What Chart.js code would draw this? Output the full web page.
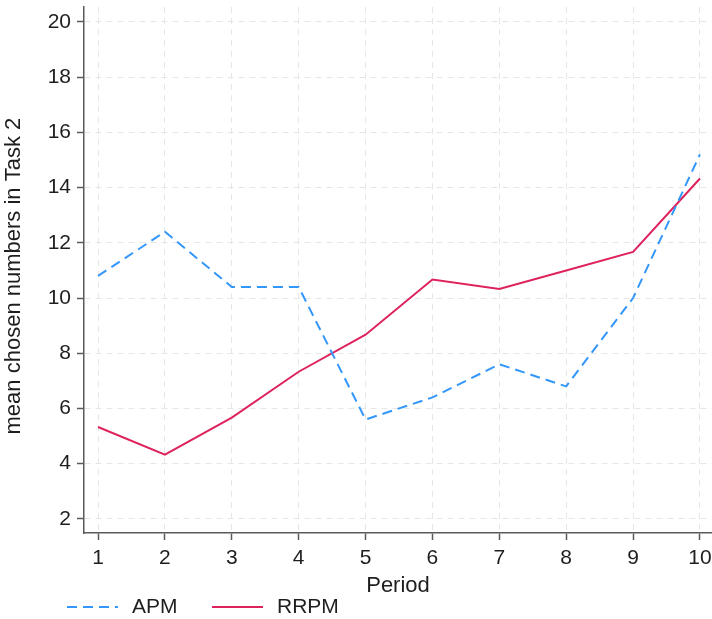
<!DOCTYPE html>
<html>
<head>
<meta charset="utf-8">
<script src="https://cdn.jsdelivr.net/npm/chart.js@4.4.0/dist/chart.umd.min.js"></script>
<style>
  body { margin: 0; background: #fff; }
  #wrap { width: 712px; height: 619px; }
</style>
</head>
<body>
<div id="wrap"><canvas id="periodChart" width="712" height="619"></canvas></div>
<script>
// Mean chosen numbers in Task 2 by period

const periods = [1, 2, 3, 4, 5, 6, 7, 8, 9, 10];
const apmMeans = [10.8, 12.4, 10.4, 10.4, 5.6, 6.4, 7.6, 6.8, 10.0, 15.2];
const rrpmMeans = [5.33, 4.33, 5.67, 7.33, 8.67, 10.67, 10.33, 11.0, 11.67, 14.33];
const yTicks = [2, 4, 6, 8, 10, 12, 14, 16, 18, 20];

const FONT = 'Arial, "Liberation Sans", sans-serif';
const TEXT = '#1e1e1e';
const AXIS = '#5a5a5a';
const GRID = '#e6e6e6';

// legend drawn under the x-axis title, left aligned like the original
const bottomLegend = {
    id: 'bottomLegend',
    afterDraw(chart) {
        const ctx = chart.ctx;
        const xs = [67, 212];
        const y = 607;
        ctx.save();
        ctx.font = '21px ' + FONT;
        ctx.textBaseline = 'middle';
        chart.data.datasets.forEach((ds, i) => {
            ctx.strokeStyle = ds.borderColor;
            ctx.lineWidth = ds.borderWidth;
            ctx.setLineDash(ds.borderDash || []);
            ctx.beginPath();
            ctx.moveTo(xs[i], y);
            ctx.lineTo(xs[i] + 51, y);
            ctx.stroke();
            ctx.setLineDash([]);
            ctx.fillStyle = TEXT;
            ctx.fillText(ds.label, xs[i] + 65, y);
        });
        ctx.restore();
    }
};

const ctx = document.getElementById('periodChart').getContext('2d');

new Chart(ctx, {
    type: 'line',
    data: {
        datasets: [{
            label: 'APM',
            data: periods.map((p, i) => ({ x: p, y: apmMeans[i] })),
            borderColor: 'rgb(51, 150, 250)',
            borderWidth: 2,
            borderDash: [10, 6],
            pointRadius: 0,
            tension: 0,
            fill: false
        }, {
            label: 'RRPM',
            data: periods.map((p, i) => ({ x: p, y: rrpmMeans[i] })),
            borderColor: 'rgb(222, 34, 92)',
            borderWidth: 2,
            pointRadius: 0,
            tension: 0,
            fill: false
        }]
    },
    options: {
        responsive: false,
        animation: false,
        layout: {
            padding: { top: 7, right: 0, bottom: 19, left: 0 }
        },
        scales: {
            x: {
                type: 'linear',
                min: 0.79,
                max: 10.18,
                afterBuildTicks: s => { s.ticks = periods.map(v => ({ value: v })); },
                afterFit: s => {
                    s.height = 67;
                    s.paddingLeft = 0;
                    s.paddingRight = 0;
                },
                ticks: {
                    color: TEXT,
                    font: { family: FONT, size: 21 },
                    padding: 6,
                    maxRotation: 0
                },
                grid: {
                    color: GRID,
                    lineWidth: 1,
                    tickLength: 7,
                    tickColor: AXIS,
                    tickWidth: 1.5
                },
                border: { color: AXIS, width: 1.5, dash: [6, 5] },
                title: {
                    display: true,
                    text: 'Period',
                    color: TEXT,
                    font: { family: FONT, size: 22 },
                    padding: { top: 0, bottom: 1 }
                }
            },
            y: {
                min: 1.49,
                max: 20.54,
                afterBuildTicks: s => { s.ticks = yTicks.map(v => ({ value: v })); },
                afterFit: s => {
                    s.width = 84;
                    s.paddingTop = 0;
                    s.paddingBottom = 0;
                },
                ticks: {
                    color: TEXT,
                    font: { family: FONT, size: 21 },
                    padding: 6
                },
                grid: {
                    color: GRID,
                    lineWidth: 1,
                    tickLength: 7,
                    tickColor: AXIS,
                    tickWidth: 1.5
                },
                border: { color: AXIS, width: 1.5, dash: [6, 5] },
                title: {
                    display: true,
                    // trailing spaces nudge the visible title a little lower, as in the original
                    text: 'mean chosen numbers in Task 2  ',
                    color: TEXT,
                    font: { family: FONT, size: 22 },
                    padding: { top: 1, bottom: 0 }
                }
            }
        },
        plugins: {
            legend: { display: false },
            tooltip: { enabled: false }
        }
    },
    plugins: [bottomLegend]
});
</script>
</body>
</html>
